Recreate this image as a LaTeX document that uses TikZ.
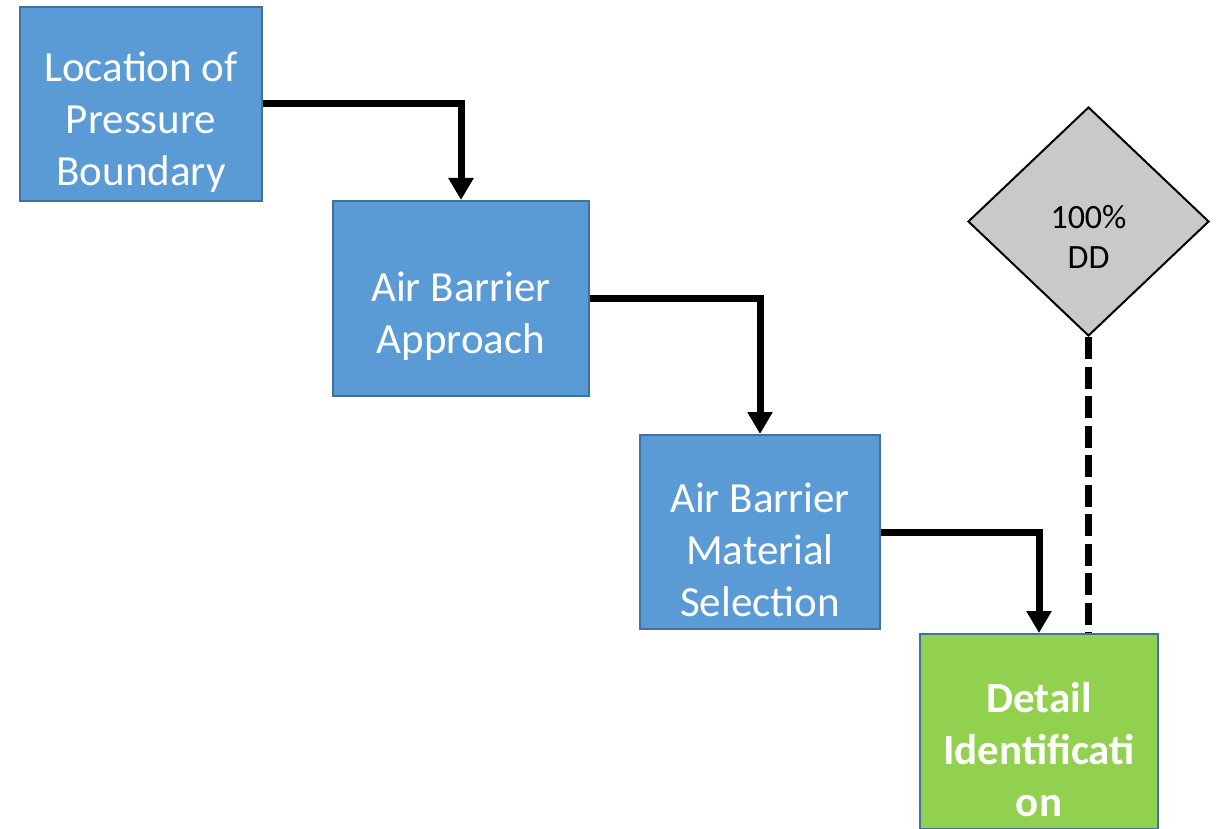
\documentclass[tikz,border=0pt]{standalone}
\usepackage{fontspec}
\setmainfont{Carlito}
\usetikzlibrary{arrows.meta,shapes.geometric}
\definecolor{boxblue}{HTML}{5B9BD5}
\definecolor{boxedge}{HTML}{41719C}
\definecolor{boxgreen}{HTML}{92D050}
\definecolor{gategray}{HTML}{C9C9C9}
\begin{document}
\begin{tikzpicture}[x=1pt,y=-1pt,
  stagebox/.style={draw=boxedge,line width=2pt,fill=boxblue,
    minimum width=242pt,minimum height=194pt,inner sep=0pt},
  finalbox/.style={stagebox,fill=boxgreen},
  gate/.style={draw=black,line width=2pt,fill=gategray,diamond,
    minimum width=241pt,minimum height=229pt,inner sep=0pt},
  boxtext/.style={text=white,align=center,inner sep=0pt,yshift=-18pt,
    font=\fontsize{43}{52}\selectfont},
  finaltext/.style={boxtext,font=\fontsize{43}{52}\selectfont\bfseries},
  gatetext/.style={align=center,inner sep=0pt,yshift=-15pt,
    font=\fontsize{34}{40}\selectfont},
  flow/.style={line width=7pt,-{Triangle[width=24pt,length=22pt]}},
  link/.style={line width=7.5pt,dash pattern=on 22pt off 7.5pt}]
\useasboundingbox (0,0) rectangle (1223,829);
% process boxes
\node[stagebox] (loc) at (141,104) {};
\node[stagebox,minimum width=256pt,minimum height=195pt] (app) at (461,298.5) {};
\node[stagebox,minimum width=240pt] (mat) at (760,532) {};
\node[finalbox,minimum width=238pt,minimum height=195pt] (det) at (1039,731.5) {};
\node[gate] (dd) at (1088.5,221.5) {};
% box labels
\node[boxtext] (loc-t) at (loc.center) {Location of\\Pressure\\Boundary};
\node[boxtext] (app-t) at (app.center) {Air Barrier\\Approach};
\node[boxtext] (mat-t) at (mat.center) {Air Barrier\\Material\\Selection};
\node[finaltext] (det-t) at (det.center) {Detail\\Identificati\\on};
\node[gatetext] (dd-t) at (dd.center) {100\%\\DD};
% connectors
\draw[flow] (loc.east) -| (app.north);
\draw[flow] (app.east) -| (mat.north);
\draw[flow] (mat.east) -| (det.north);
\draw[link] (dd.south) -- (dd.south |- det.north);
\end{tikzpicture}
\end{document}
